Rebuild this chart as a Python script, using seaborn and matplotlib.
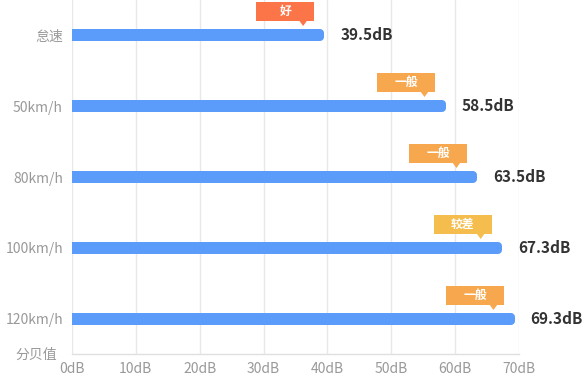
import matplotlib
matplotlib.use("Agg")
import matplotlib.pyplot as plt
import matplotlib.transforms as mtransforms
from matplotlib.patches import Rectangle, Polygon
import pandas as pd
import seaborn as sns

# data
speeds = ["怠速", "50km/h", "80km/h", "100km/h", "120km/h"]
noise_db = [39.5, 58.5, 63.5, 67.3, 69.3]
ratings = ["好", "一般", "一般", "较差", "一般"]
x_ticks = [0, 10, 20, 30, 40, 50, 60, 70]
x_tick_labels = [f"{t}dB" for t in x_ticks]

rating_colors = {"好": "#fb7549", "一般": "#f7a84e", "较差": "#f5bd4d"}
bar_color = "#5b9cfa"

sns.set_theme(style="white")
plt.rcParams["font.family"] = ["Noto Sans CJK SC", "DejaVu Sans"]

DPI = 100
fig = plt.figure(figsize=(5.88, 3.79), dpi=DPI)
ax = fig.add_axes([72 / 588, 25 / 379, 447 / 588, 354 / 379])

df = pd.DataFrame({"speed": speeds, "db": noise_db})
sns.barplot(data=df, x="db", y="speed", orient="h", color=bar_color,
            width=4 / 71, saturation=1, ax=ax, zorder=3)

# thick round-joined edge gives the rounded bar end (left end gets clipped by the axes);
# pull the rectangle in by the edge half-width so the bar still ends at its value
px_per_db = 447 / 70
for p in ax.patches:
    p.set_width(p.get_width() - 4 / px_per_db)
    p.set_edgecolor(bar_color)
    p.set_linewidth(8 * 72 / DPI)
    p.set_joinstyle("round")

ax.set_xlim(0, 70)
ax.set_ylim(4.493, -0.493)
ax.set_xticks(x_ticks)
ax.set_xticklabels(x_tick_labels)
ax.set_xlabel("")
ax.set_ylabel("")
ax.grid(axis="x", color="#e8e8e8", linewidth=1, zorder=0)
ax.grid(axis="y", visible=False)
ax.set_axisbelow(True)
for side in ["top", "right", "left"]:
    ax.spines[side].set_visible(False)
ax.spines["bottom"].set_color("#e0e0e0")
ax.spines["bottom"].set_linewidth(1)
ax.tick_params(axis="both", length=0, labelsize=10, colors="#999999")
ax.tick_params(axis="x", pad=6)
ax.tick_params(axis="y", pad=6.5)

ax.text(-0.034, -0.003, "分贝值", transform=ax.transAxes, ha="right", va="center",
        fontsize=10, color="#999999")

px = 1 / DPI  # one pixel in inches
for i, (val, rating) in enumerate(zip(noise_db, ratings)):
    # value label
    ax.annotate(f"{val}dB", xy=(val, i), xytext=(16 * 72 / DPI, 0),
                textcoords="offset points", ha="left", va="center",
                fontsize=11, fontweight="bold", color="#333333",
                annotation_clip=False)
    # badge anchored at the tip
    trans = fig.dpi_scale_trans + mtransforms.ScaledTranslation(val - 3.3, i, ax.transData)
    col = rating_colors[rating]
    ax.add_patch(Rectangle((-47 * px, 14 * px), 58 * px, 19 * px, transform=trans,
                           facecolor=col, edgecolor="none", zorder=5, clip_on=False))
    ax.add_patch(Polygon([(-4 * px, 14.5 * px), (4 * px, 14.5 * px), (0, 9 * px)],
                         closed=True, transform=trans, facecolor=col,
                         edgecolor="none", zorder=5, clip_on=False))
    ax.text(-18 * px, 23.5 * px, rating, transform=trans, ha="center", va="center",
            fontsize=8.5, fontweight="bold", color="white", zorder=6)

fig.savefig("out.png", dpi=DPI)
